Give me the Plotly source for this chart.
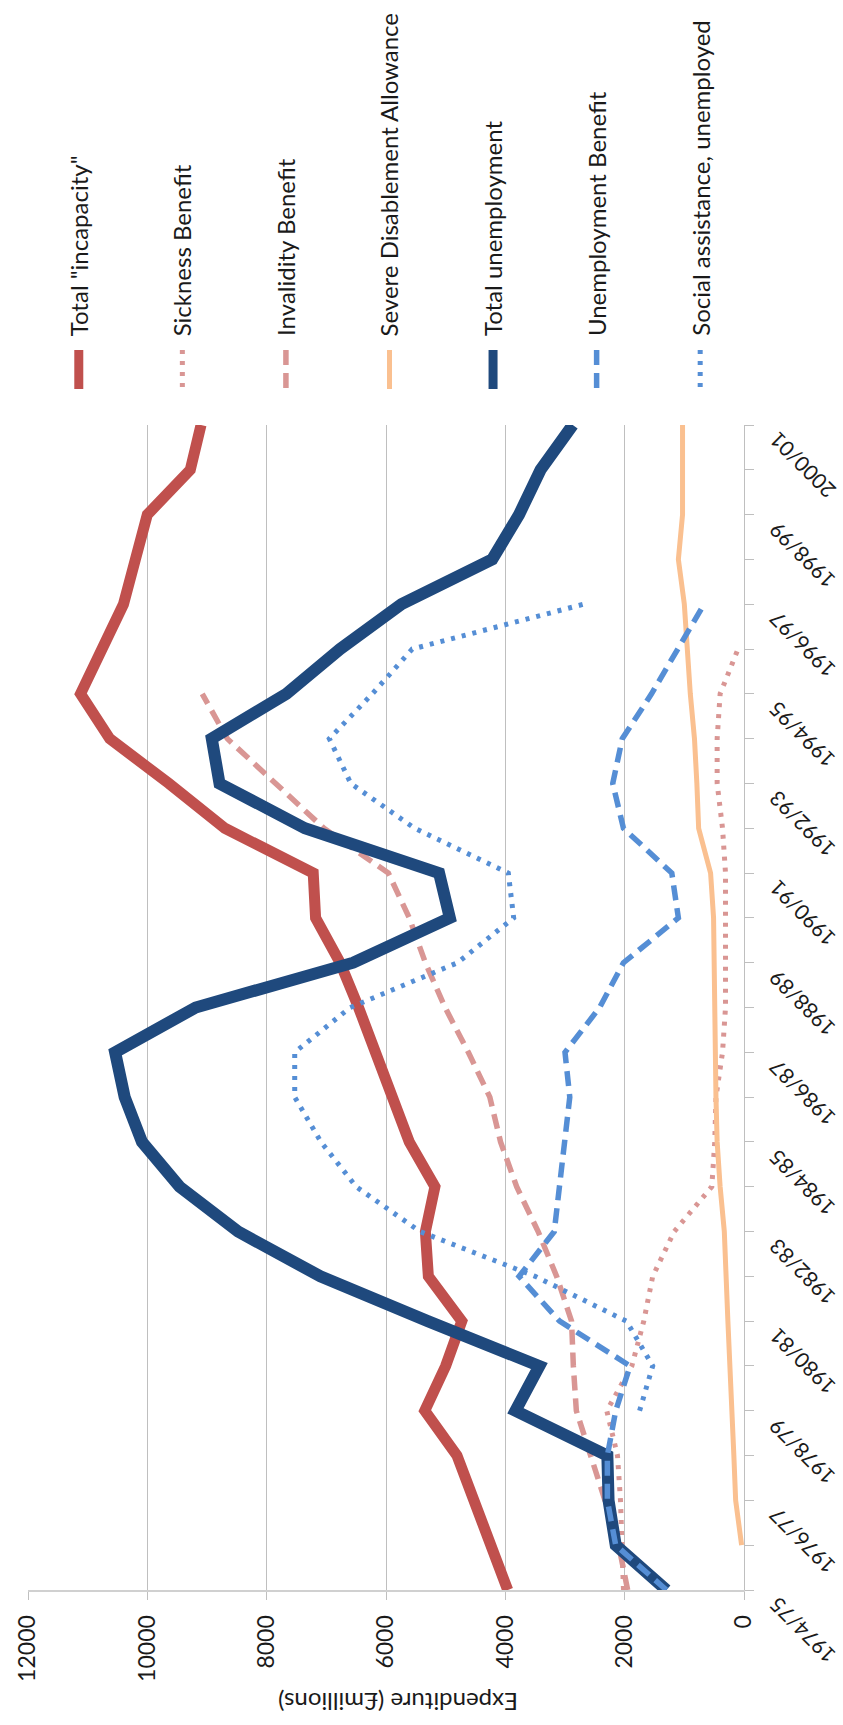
import plotly.graph_objects as go

# Financial years on the category axis
years = ["1974/75", "1975/76", "1976/77", "1977/78", "1978/79", "1979/80", "1980/81",
         "1981/82", "1982/83", "1983/84", "1984/85", "1985/86", "1986/87", "1987/88",
         "1988/89", "1989/90", "1990/91", "1991/92", "1992/93", "1993/94", "1994/95",
         "1995/96", "1996/97", "1997/98", "1998/99", "1999/00", "2000/01"]

# Expenditure, £ millions
total_incapacity = [3960, 4250, 4530, 4810, 5350, 5000, 4730, 5290, 5340, 5180, 5610, 5890,
                    6140, 6460, 6770, 7180, 7220, 8700, 9640, 10630, 11120, 10760, 10400,
                    10200, 10000, 9280, 9100]
sickness_benefit = [2020, 2040, 2070, 2120, 2300, 1880, 1680, 1530, 1170, 540, 490, 470, 360,
                    310, 300, 310, 310, 360, 450, 450, 400, 100, None, None, None, None, None]
invalidity_benefit = [1950, 2100, 2330, 2570, 2810, 2860, 2890, 3140, 3450, 3810, 4080, 4260,
                      4620, 5010, 5340, 5610, 5960, 7040, 7850, 8660, 9080, None, None, None,
                      None, None, None]
severe_disablement = [None, 40, 140, 170, 210, 240, 270, 300, 330, 400, 450, 470, 480, 490,
                      490, 510, 560, 760, 790, 830, 900, 940, 1000, 1100, 1030, 1030, 1030]
total_unemployment = [1300, 2150, 2270, 2290, 3830, 3430, 5300, 7100, 8480, 9460, 10090, 10380,
                      10540, 9190, 6550, 4930, 5110, 7360, 8790, 8920, 7670, 6770, 5740, 4220,
                      3770, 3410, 2870]
unemployment_benefit = [1300, 2150, 2290, 2290, 2150, 1910, 3090, 3770, 3180, 3090, 3000, 2920,
                        3000, 2420, 2020, 1100, 1210, 2020, 2200, 2040, 1550, 1100, 670, None,
                        None, None, None]
social_assistance = [None, None, None, None, 1750, 1530, 1970, 3500, 5430, 6500, 7090, 7530,
                     7530, 6600, 4800, 3860, 3950, 5520, 6590, 6950, 6230, 5560, 2690, None,
                     None, None, None]

value_ticks = [0, 2000, 4000, 6000, 8000, 10000, 12000]

series = [
    ('Total "incapacity"', total_incapacity, "#C0504D", 11, "solid"),
    ("Sickness Benefit", sickness_benefit, "#D99694", 5, "4px,7px"),
    ("Invalidity Benefit", invalidity_benefit, "#D99694", 5.5, "15px,8px"),
    ("Severe Disablement Allowance", severe_disablement, "#FAC090", 5, "solid"),
    ("Total unemployment", total_unemployment, "#1F497D", 12, "solid"),
    ("Unemployment Benefit", unemployment_benefit, "#558ED5", 5.5, "15px,8px"),
    ("Social assistance, unemployed", social_assistance, "#558ED5", 5, "4px,7px"),
]

W, H = 843, 1725
PL, PR, PT, PB = 25, 744, 425, 1590  # plot area in pixels

FONT = "Lato, 'Open Sans', sans-serif"
TXT = "#1a1a1a"


def px_x(px):
    return (px - PL) / (PR - PL)


def px_y(py):
    return (PB - py) / (PB - PT)


fig = go.Figure()
for name, vals, color, width, dash in series:
    fig.add_trace(go.Scatter(
        x=vals, y=years, mode="lines", name=name,
        line=dict(color=color, width=width, dash=dash),
        connectgaps=False, showlegend=False,
    ))

annotations = []
shapes = []

# Legend: vertical swatches with upward-reading labels
for k, (name, vals, color, width, dash) in enumerate(series):
    cx = 76 + 104 * k
    lw = min(width, 9)
    shapes.append(dict(type="line", xref="paper", yref="paper",
                       x0=px_x(cx), x1=px_x(cx), y0=px_y(350), y1=px_y(389),
                       line=dict(color=color, width=lw, dash=dash)))
    annotations.append(dict(text=name, xref="paper", yref="paper",
                            x=px_x(cx), y=px_y(338), xanchor="center", yanchor="bottom",
                            textangle=-90, showarrow=False,
                            font=dict(family=FONT, size=24, color=TXT)))

# Year labels on every second category
for i, yr in enumerate(years):
    if i % 2 == 0:
        annotations.append(dict(text=yr, xref="paper", yref="y", x=1, y=yr,
                                xanchor="left", yanchor="top", xshift=17,
                                textangle=-135, showarrow=False,
                                font=dict(family=FONT, size=21, color=TXT)))

# Value-axis title
annotations.append(dict(text="Expenditure (£millions)", xref="paper", yref="paper",
                        x=px_x(396), y=px_y(1703), xanchor="center", yanchor="middle",
                        textangle=180, showarrow=False,
                        font=dict(family=FONT, size=24, color=TXT)))

fig.update_layout(
    width=W, height=H,
    margin=dict(l=PL, r=W - PR, t=PT, b=H - PB, pad=0),
    paper_bgcolor="white", plot_bgcolor="white",
    showlegend=False,
    annotations=annotations, shapes=shapes,
    xaxis=dict(range=[12000, 0], tickvals=value_ticks, ticktext=[str(v) for v in value_ticks],
               showgrid=True, gridcolor="#BFBFBF", gridwidth=1, zeroline=False,
               showline=True, linecolor="#D0D0D0", linewidth=2,
               ticks="outside", ticklen=8, tickcolor="#BFBFBF", tickwidth=1,
               tickangle=-90, tickfont=dict(family=FONT, size=23, color=TXT),
               ticklabelstandoff=6, side="bottom"),
    yaxis=dict(type="category", categoryarray=years, categoryorder="array",
               range=[0, len(years) - 1], side="right",
               showgrid=False, zeroline=False, showticklabels=False,
               showline=True, linecolor="#BFBFBF", linewidth=1,
               ticks="outside", ticklen=9, tickcolor="#BFBFBF", tickwidth=1),
)

fig.write_html("out.html")
